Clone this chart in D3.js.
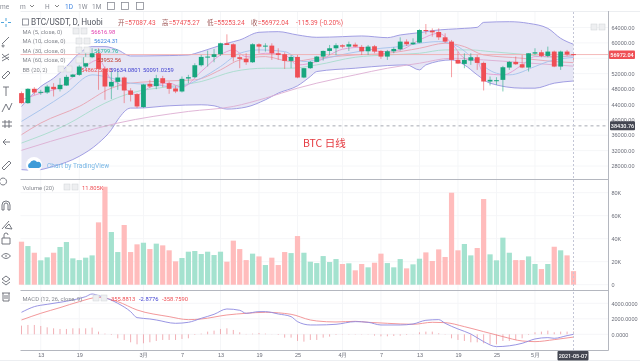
<!DOCTYPE html>
<html>
<head>
<meta charset="utf-8">
<script src="https://cdn.jsdelivr.net/npm/d3@7"></script>
<style>
  html, body { margin: 0; padding: 0; background: #fff; overflow: hidden; }
  svg { display: block; font-family: Roboto, "Noto Sans", sans-serif; filter: blur(0.35px); }
  text { fill: #6a6d78; }
</style>
</head>
<body>
<svg id="chart" width="640" height="361"></svg>
<script>
// daily candles, 2021-02-10 to 2021-05-07
const opens = [46940,44340,48060,47020,47110,48580,47970,48920,51170,51690,53850,56270,57300,53240,48660,49870,51000,47630,46680,43310,49360,48750,50820,49530,48150,47370,50740,51080,54190,56350,56350,57050,59900,59640,56270,55840,54970,59640,59030,59290,57300,57050,55320,56350,51000,53420,55060,56440,57910,58600,59380,59030,59550,58950,57820,59120,57910,56440,57820,58340,60330,59640,60070,63350,63180,62830,61450,60330,55580,54540,55400,56270,54800,49960,50130,50390,53590,55060,54450,53590,57220,57560,56610,57740,53850,57740,57087.43];
const highs = [47370,48230,48490,47800,49100,49530,50820,51690,51950,54280,57300,58600,58600,53850,52550,52550,51260,48230,46940,49360,50390,51690,51430,49960,48840,51260,51690,54710,56870,58000,58430,60070,62230,59900,56870,57300,59900,59900,59900,59900,58600,57560,56870,56870,53500,55300,56610,58000,59460,59900,59640,60330,60070,59460,59460,59460,58170,58170,58860,61450,60930,61190,63530,64900,63780,63780,62490,60760,57740,57300,57300,56870,55140,51260,51080,54020,55320,56440,56870,57300,58600,58170,59030,57990,57990,58170,57475.27];
const lows = [44170,44170,46500,46500,46760,46070,47370,48840,51080,51430,53420,56010,47800,45210,45380,47800,44340,44780,43050,43130,48230,47970,48490,46760,46940,47110,49530,50820,53850,53850,54970,56610,59460,55140,53420,54280,54800,57300,57740,55580,55580,53240,53420,50820,50820,53240,54970,55400,56870,56870,58600,57910,58950,56870,56870,57300,55840,55580,57300,58000,59200,59460,59900,62230,61620,60760,59980,51080,54540,53420,54280,52980,47630,48920,49100,47370,52980,54280,53420,52550,56870,56270,56270,53680,52980,56610,55253.24];
const closes = [44340,48060,47110,47280,48660,47970,49100,51170,51770,53850,56270,57300,53240,48660,49870,51000,47630,46500,43480,49180,48660,50820,49530,48060,47370,50650,51080,54190,56350,56440,57050,59900,59460,56270,55840,54970,59640,59030,59290,57300,56870,55320,56350,51000,53420,55060,56440,57910,58600,59380,59030,59640,59030,57820,59030,57740,56440,57820,58430,60330,59640,60070,63350,63090,62750,61450,60330,55580,54630,55580,56270,54800,49960,50390,50300,53670,55060,54450,53590,57300,57560,56610,57740,53850,57740,56960,56972.04];
const volumes = [37.4,33.6,27.8,21.2,23.8,27.8,32.8,37.1,22.9,21.4,23.5,25.5,54.2,85.2,45.8,28.4,51.9,28.4,35.1,36.5,31,35.7,34.2,29.9,20.3,23.2,28.7,29.3,26.7,28.7,25.8,28.7,20,38.3,31,21.4,27,24.6,17.1,23.5,17.1,28.4,27.5,42.3,27.8,20,18.8,24.9,19.7,22.3,18,18.6,12.5,18,15.1,19.1,27,18.8,15.1,22.3,14.2,17.7,22.6,28.1,20.6,30.7,24.1,80,29.9,35.4,25.5,31.9,74.5,26.4,21.2,40.9,27.8,21.4,21.4,24.6,18,13.6,18,33,29.9,25.5,11.805];
const macdHist = [1118,1204,1204,1075,903,774,688,688,774,774,774,860,344,86,-86,-516,-731,-1032,-1290,-1161,-1032,-860,-731,-731,-731,-602,-516,-86,86,344,473,688,774,559,258,43,86,172,86,-20,-86,-430,-430,-860,-946,-731,-731,-430,-301,-86,-43,-43,-43,-43,-43,-172,-258,-258,-215,-172,-86,-20,258,344,344,129,-43,-516,-731,-860,-1032,-1032,-1161,-1290,-1290,-860,-860,-731,-516,-86,258,344,473,258,344,344,355.88];

// lines as [day index, value]
const bbUpper = [[0,43480],[3,48660],[5,50820],[7,53850],[9,57300],[11,59030],[13,59030],[15,58170],[17,56610],[19,56610],[23,56700],[26,56870],[28,57740],[32,59900],[34,60760],[37,62750],[40,62920],[43,62060],[46,61450],[50,61620],[53,61800],[57,61360],[59,62060],[62,62660],[64,63180],[69,63780],[71,64040],[72,65340],[76,65510],[79,65080],[82,63780],[84,61190],[86,59634]];
const bbLower = [[0,27060],[2,26890],[5,27930],[9,30520],[12,33970],[14,37430],[15,40020],[17,43050],[18,43050],[23,43650],[28,43910],[30,43650],[32,42790],[35,43310],[38,45210],[40,46940],[43,48840],[45,51260],[46,52550],[52,53420],[57,54110],[60,54280],[62,52980],[63,54280],[67,55580],[69,54280],[71,51690],[73,49530],[78,48230],[80,48230],[83,49530],[86,50091]];
const bbBasis = [[0,36140],[3,39160],[9,43480],[14,48230],[17,49530],[23,50130],[27,50390],[31,52980],[34,55580],[38,56440],[42,55140],[46,56010],[52,56870],[57,57300],[62,58600],[66,59900],[69,59030],[72,56870],[78,56010],[83,55140],[86,54862]];
const ma5 = [[0,45210],[3,46940],[6,48490],[9,52550],[12,55580],[14,50390],[15,49530],[18,46500],[20,48490],[23,49530],[25,48490],[28,52550],[31,56870],[33,58170],[35,56440],[38,57300],[41,56870],[43,54280],[46,55140],[50,58340],[53,58860],[56,57740],[59,58170],[62,60760],[65,62490],[67,59900],[69,56010],[71,55140],[72,52120],[75,51690],[78,54280],[80,56440],[83,56440],[86,56617]];
const ma10 = [[0,39590],[3,42620],[7,46940],[11,51690],[13,51260],[17,49530],[21,49100],[24,48490],[28,50820],[31,53850],[34,57300],[37,58170],[41,57740],[44,55140],[46,55580],[51,57300],[56,58600],[59,59030],[62,59900],[65,60330],[68,59030],[71,55140],[74,52120],[76,51690],[80,53850],[82,55140],[86,56224]];
const ma30 = [[0,33970],[7,38730],[13,44340],[17,46940],[23,48660],[28,49960],[33,52550],[38,53420],[42,53420],[46,54280],[52,56270],[57,56870],[62,57300],[66,58170],[70,58170],[73,57740],[78,57050],[83,56270],[86,56800]];
const ma60 = [[0,32070],[9,36570],[15,39160],[26,42180],[33,43480],[38,45640],[43,48230],[46,49530],[52,51690],[57,53420],[62,54710],[67,56010],[72,55580],[78,54880],[86,53952]];
const macdLine = [[0,2838],[2,3569],[4,3870],[6,4128],[8,4429],[10,4859],[11,5203],[12,4988],[15,3999],[17,2924],[18,2150],[20,1978],[21,1849],[24,1419],[26,1548],[28,2064],[30,2580],[32,3268],[34,3096],[35,2709],[37,2924],[38,2924],[40,2623],[42,2279],[43,1634],[45,1204],[46,1204],[49,1290],[52,1634],[54,1548],[56,1204],[59,1204],[61,1333],[63,1806],[65,1892],[66,1419],[68,688],[70,43],[72,-946],[74,-1591],[78,-1161],[80,-602],[82,-430],[83,-516],[85,-172],[86,-2.88]];
const macdSignal = [[0,1849],[3,2709],[6,3440],[9,4214],[12,4773],[15,4214],[18,3139],[23,2279],[26,1892],[28,1978],[32,2494],[35,2709],[38,2838],[42,2580],[45,1849],[46,1720],[49,1591],[52,1677],[54,1548],[57,1419],[61,1290],[64,1548],[66,1505],[69,989],[72,344],[75,-301],[78,-860],[80,-946],[83,-688],[86,-359]];

const priceTicks = [28000,32000,36000,40000,44000,48000,52000,56000,60000,64000];
const volumeTicks = [0,20,40,60,80];
const macdTicks = [0,2000,4000];
const dayTicks = [3,9,19,25,31,37,43,50,56,62,68,74,80];
const dayLabels = ["13","19","3月","7","13","19","25","4月","7","13","19","25","5月"];

const lastPrice = 56972.04, crossPrice = 38430.76;
const crossDate = "2021-05-07";

const red = "#ef4f55", green = "#17a67e";
const redSoft = "#ffbcbc", greenSoft = "#a4e2cf";
const left = 20.5, right = 608.5;
const mainTop = 12, mainBottom = 179, volTop = 181, volBottom = 290, macdBottom = 350;

const svg = d3.select("#chart");
const x = d3.scaleLinear().domain([0, 86]).range([21.5, 573.5]);
const yPrice = d3.scaleLinear().domain([28000, 64000]).range([166, 27.5]);
const yVol = d3.scaleLinear().domain([0, 80]).range([284.7, 192.7]);
const yMacd = d3.scaleLinear().domain([0, 4000]).range([334.3, 303.3]);

// grid
const grid = svg.append("g").attr("stroke", "#f5f6f8").attr("stroke-width", 1);
dayTicks.forEach(d => {
  grid.append("line").attr("x1", x(d)).attr("x2", x(d)).attr("y1", mainTop).attr("y2", macdBottom);
});
priceTicks.forEach(p => {
  grid.append("line").attr("x1", left).attr("x2", right).attr("y1", yPrice(p)).attr("y2", yPrice(p));
});
volumeTicks.forEach(v => {
  grid.append("line").attr("x1", left).attr("x2", right).attr("y1", yVol(v)).attr("y2", yVol(v));
});
macdTicks.forEach(v => {
  grid.append("line").attr("x1", left).attr("x2", right).attr("y1", yMacd(v)).attr("y2", yMacd(v));
});

// main pane
const priceLine = d3.line().x(d => x(d[0])).y(d => yPrice(d[1])).curve(d3.curveMonotoneX);
const main = svg.append("g");
main.append("path")
  .attr("d", priceLine(bbUpper) + priceLine(bbLower.slice().reverse()).replace("M", "L") + "Z")
  .attr("fill", "#e6e6f5");
main.selectAll(".bb").data([bbUpper, bbLower]).enter().append("path")
  .attr("d", priceLine).attr("fill", "none").attr("stroke", "#9794e0").attr("stroke-width", 0.9);

const maLines = [
  { data: ma60, color: "#dcaed3" },
  { data: ma30, color: "#a8dccd" },
  { data: bbBasis, color: "#e8a3b0" },
  { data: ma10, color: "#a4c2ec" },
  { data: ma5, color: "#e39bd0" }
];
main.selectAll(".ma").data(maLines).enter().append("path")
  .attr("d", d => priceLine(d.data)).attr("fill", "none")
  .attr("stroke", d => d.color).attr("stroke-width", 0.9);

main.append("line").attr("x1", left).attr("x2", right)
  .attr("y1", yPrice(lastPrice)).attr("y2", yPrice(lastPrice))
  .attr("stroke", "#f2a9aa").attr("stroke-width", 0.8);

// candles
const candle = main.selectAll(".candle").data(d3.range(opens.length)).enter().append("g");
candle.append("line")
  .attr("x1", i => x(i)).attr("x2", i => x(i))
  .attr("y1", i => yPrice(highs[i])).attr("y2", i => yPrice(lows[i]))
  .attr("stroke", i => closes[i] >= opens[i] ? green : red).attr("stroke-opacity", 0.55);
candle.append("rect")
  .attr("x", i => x(i) - 2.4).attr("width", 4.8)
  .attr("y", i => yPrice(Math.max(opens[i], closes[i])))
  .attr("height", i => Math.max(1, Math.abs(yPrice(opens[i]) - yPrice(closes[i]))))
  .attr("fill", i => closes[i] >= opens[i] ? green : red);

// volume
svg.append("g").selectAll("rect").data(volumes).enter().append("rect")
  .attr("x", (d, i) => x(i) - 2.6).attr("width", 5.2)
  .attr("y", d => yVol(d)).attr("height", d => yVol(0) - yVol(d))
  .attr("fill", (d, i) => closes[i] >= opens[i] ? greenSoft : redSoft);

// macd
const macdPath = d3.line().x(d => x(d[0])).y(d => yMacd(d[1])).curve(d3.curveMonotoneX);
svg.append("g").selectAll("line").data(macdHist).enter().append("line")
  .attr("x1", (d, i) => x(i)).attr("x2", (d, i) => x(i))
  .attr("y1", yMacd(0)).attr("y2", d => yMacd(d))
  .attr("stroke", "#ee9aa2").attr("stroke-width", 0.8);
svg.append("path").attr("d", macdPath(macdSignal)).attr("fill", "none").attr("stroke", "#f08c8e").attr("stroke-width", 0.9);
svg.append("path").attr("d", macdPath(macdLine)).attr("fill", "none").attr("stroke", "#8d89e0").attr("stroke-width", 0.9);

// frames
const frame = svg.append("g").attr("stroke", "#b4b7bf").attr("stroke-width", 1);
frame.append("line").attr("x1", left).attr("x2", 640).attr("y1", 11.5).attr("y2", 11.5).attr("stroke", "#eceef1");
frame.append("line").attr("x1", left).attr("x2", right).attr("y1", 179.5).attr("y2", 179.5);
frame.append("line").attr("x1", left).attr("x2", right).attr("y1", 290.5).attr("y2", 290.5);
frame.append("line").attr("x1", left).attr("x2", right).attr("y1", 350.5).attr("y2", 350.5);
frame.append("line").attr("x1", right).attr("x2", right).attr("y1", 11).attr("y2", 350.5);
frame.append("line").attr("x1", 0).attr("x2", 640).attr("y1", 360.5).attr("y2", 360.5).attr("stroke", "#eceef1");

// crosshair
const cross = svg.append("g").attr("stroke", "#a6a9b2").attr("stroke-dasharray", "3 3");
cross.append("line").attr("x1", left).attr("x2", right)
  .attr("y1", yPrice(crossPrice)).attr("y2", yPrice(crossPrice));
cross.append("line").attr("x1", x(86)).attr("x2", x(86)).attr("y1", mainTop).attr("y2", macdBottom)
  .attr("stroke", "#c3c6d6").attr("stroke-dasharray", "2 2");

// axes
function styleAxis(g) {
  g.select(".domain").remove();
  g.selectAll("text").attr("font-size", 5.5).attr("fill", "#6a6d78");
}
// 56000 sits behind the last price flag, so it gets a grid line but no label
svg.append("g").attr("transform", `translate(${right + 1},0)`)
  .call(d3.axisRight(yPrice).tickValues(priceTicks.filter(p => p !== 56000)).tickSize(0).tickPadding(2).tickFormat(d3.format(".2f")))
  .call(styleAxis);
svg.append("g").attr("transform", `translate(${right + 1},0)`)
  .call(d3.axisRight(yVol).tickValues(volumeTicks).tickSize(0).tickPadding(2).tickFormat(d => d ? d + "K" : "0"))
  .call(styleAxis);
svg.append("g").attr("transform", `translate(${right + 1},0)`)
  .call(d3.axisRight(yMacd).tickValues(macdTicks).tickSize(0).tickPadding(2).tickFormat(d3.format(".4f")))
  .call(styleAxis);
svg.append("g").attr("transform", `translate(0,${macdBottom})`)
  .call(d3.axisBottom(x).tickValues(dayTicks).tickSize(0).tickPadding(3).tickFormat((d, i) => dayLabels[i]))
  .call(styleAxis);

// price and date flags
function flag(px, py, w, h, fill, label) {
  svg.append("rect").attr("x", px).attr("y", py).attr("width", w).attr("height", h).attr("rx", 1).attr("fill", fill);
  svg.append("text").attr("x", px + w / 2).attr("y", py + h / 2 + 2).attr("text-anchor", "middle")
    .attr("font-size", 5.5).attr("font-weight", 500).style("fill", "#fff").text(label);
}
flag(609, yPrice(lastPrice) - 4, 26, 8.5, red, lastPrice.toFixed(2));
flag(610, yPrice(crossPrice) - 4.5, 25, 9, "#434651", crossPrice.toFixed(2));
flag(x(86) - 16, 351, 31, 9.5, "#434651", crossDate);

// legends
function label(px, py, txt, color, size) {
  svg.append("text").attr("x", px).attr("y", py).attr("font-size", size || 5.8)
    .style("fill", color || "#85888f").text(txt);
}
function buttons(px, py) {
  [0, 8].forEach(dx => {
    svg.append("rect").attr("x", px + dx).attr("y", py).attr("width", 6).attr("height", 6)
      .attr("fill", "#eeeff1").attr("stroke", "#cfd1d6").attr("stroke-width", 0.5);
  });
}
svg.append("rect").attr("x", 22.5).attr("y", 19).attr("width", 6).attr("height", 6)
  .attr("fill", "none").attr("stroke", "#7d808a").attr("stroke-width", 0.8);
label(31, 25, "BTC/USDT, D, Huobi", "#555862", 8.2);
[["开", 118, "57087.43"], ["高", 162, "57475.27"], ["低", 207, "55253.24"], ["收", 251, "56972.04"]].forEach(d => {
  svg.append("text").attr("x", d[1]).attr("y", 25).attr("font-size", 6.5)
    .attr("font-family", '"Noto Sans CJK SC", sans-serif').style("fill", "#a05a5a").text(d[0]);
  label(d[1] + 6.8, 25, "=" + d[2], red, 6.5);
});
label(296, 25, "-115.39 (-0.20%)", red, 6.5);

label(22.5, 33.5, "MA (5, close, 0)");
buttons(73, 28); label(91, 33.5, "56616.98", "#e040b0");
label(22.5, 43, "MA (10, close, 0)");
buttons(76, 38); label(94, 43, "56224.31", "#3b82e0");
label(22.5, 52.5, "MA (30, close, 0)");
buttons(76, 47); label(94, 52.5, "56799.76", "#26b89a");
label(22.5, 62, "MA (60, close, 0)");
buttons(76, 57); label(97, 62, "53952.56", "#c0392b");
label(22.5, 71.5, "BB (20, 2)");
buttons(58, 66); label(81, 71.5, "54862.5530", red);
label(110, 71.5, "59634.0801", "#3f3fd0");
label(143, 71.5, "50091.0259", "#3f3fd0");

label(22.5, 189.5, "Volume (20)");
buttons(64, 184); label(82, 189.5, "11.805K", red);

label(22.5, 300.5, "MACD (12, 26, close, 9)");
buttons(93, 295); label(111, 300.5, "355.8813", red);
label(139, 300.5, "-2.8776", "#3f3fd0");
label(162, 300.5, "-358.7590", red);

buttons(591, 24);

// chart title and logo
svg.append("text").attr("x", 303).attr("y", 147).attr("font-size", 10.5)
  .attr("font-family", '"Noto Sans CJK SC", sans-serif').style("fill", "#e5393f").text("BTC 日线");
svg.append("circle").attr("cx", 34).attr("cy", 165).attr("r", 8).attr("fill", "#fff");
svg.append("path").attr("d", "M29,168 a3,3 0 0 1 1,-5 a4,4 0 0 1 7,-1 a3,3 0 0 1 2,6 Z").attr("fill", "#3d9bd8");
label(47, 168, "Chart by TradingView", "#7ab8e6", 6.6);

// top toolbar
[["me", 0], ["m", 20], ["H", 45], ["1W", 78], ["1M", 92]].forEach(d => label(d[1], 8.5, d[0], "#8a8d96", 6.5));
label(65, 8.5, "1D", "#3b82e0", 6.5);
["M30,5 l2,2 l2,-2", "M55,5 l2,2 l2,-2"].forEach(d => {
  svg.append("path").attr("d", d).attr("fill", "none").attr("stroke", "#777").attr("stroke-width", 0.9);
});
[[107.5, 2.5], [121.5, 2.5], [136.5, 2.5]].forEach(d => {
  svg.append("rect").attr("x", d[0]).attr("y", d[1]).attr("width", 7).attr("height", 7)
    .attr("fill", "none").attr("stroke", "#8a8d96").attr("stroke-width", 0.8);
});

// left toolbar icons
const icons = [
  "M1,22.5 h3 M8,22.5 h3 M6,18 v3 M6,24 v3",
  "M2,44 L9,37 M3,45 a1,1 0 1 0 .1,0",
  "M2,54 L9,60 M2,58 L9,54 M2,61 L9,57",
  "M2,77 L8,71 L10,73 L4,79 Z",
  "M3,87 h6 M6,87 v9",
  "M2,112 L6,104 L9,110 L12,103",
  "M2,122 h10 M2,126 h10 M5,120 v8 M9,120 v8",
  "M10,142 h-7 M6,139 l-3,3 l3,3",
  "M2,168 L9,161 L11,163 L4,170 Z",
  "M3,178 a3.5,3.5 0 1 0 .1,0",
  "M2,210 v-5 a4,4 0 0 1 8,0 v5 h-2 v-5 a2,2 0 0 0 -4,0 v5 Z",
  "M2,229 L9,221 M5,228 L9,224 L12,229 Z",
  "M2,238 h8 v6 h-8 Z M4,238 v-3 a2,2 0 0 1 4,0",
  "M1.5,256 q4.5,-5 9,0 q-4.5,5 -9,0 M6,255 v2",
  "M2,279 l4,-3 l4,3 l-4,3 Z M2,282 l4,3 l4,-3",
  "M2,293 h8 M3,293 v8 h6 v-8 M4,296 h4 M4,298 h4"
];
svg.append("g").selectAll("path").data(icons).enter().append("path")
  .attr("d", d => d).attr("fill", "none").attr("stroke", (d, i) => i === 0 ? "#3b9bd8" : "#666a73").attr("stroke-width", 0.9);
</script>
</body>
</html>
